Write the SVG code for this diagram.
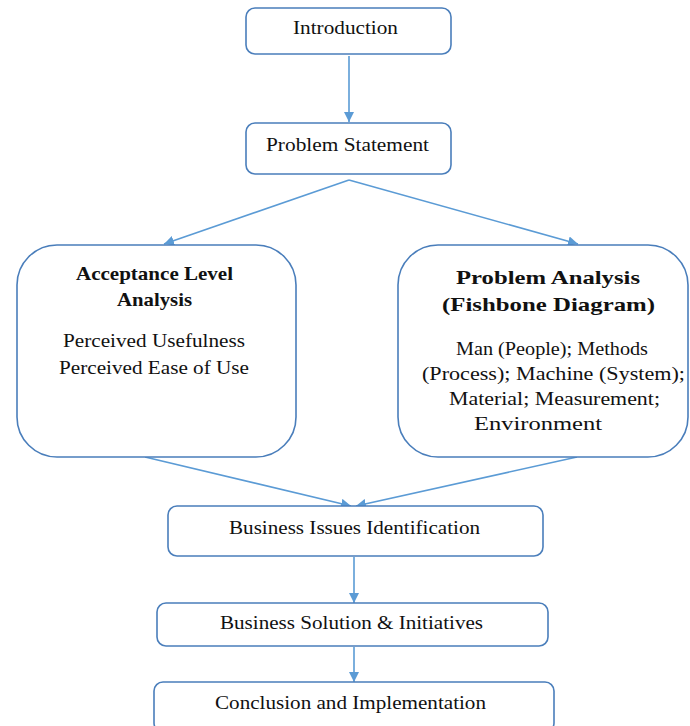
<svg xmlns="http://www.w3.org/2000/svg" width="690" height="726" viewBox="0 0 690 726">
<style>
.box{fill:#fff;stroke:#4a7ebb;stroke-width:1.6}
.t{font-family:"Liberation Serif","Times New Roman",serif;font-size:19px;fill:#111;text-anchor:middle}
.b{font-weight:bold}
.c{stroke:#5b9bd5;stroke-width:1.6;fill:none;marker-end:url(#ah)}
</style>
<defs>
<marker id="ah" viewBox="0 0 10 10" refX="10" refY="5" markerWidth="10" markerHeight="10" markerUnits="userSpaceOnUse" orient="auto">
<path d="M0,0 L10,5 L0,10 z" fill="#5b9bd5"/>
</marker>
</defs>
<rect width="690" height="726" fill="#fff"/>
<g id="connectors">
<line class="c" x1="349" y1="56" x2="349" y2="122"/>
<line class="c" x1="349" y1="180" x2="164" y2="244"/>
<line class="c" x1="349" y1="180" x2="578" y2="244"/>
<line class="c" x1="145" y1="457" x2="351" y2="506"/>
<line class="c" x1="577" y1="457" x2="356" y2="506"/>
<line class="c" x1="354" y1="557" x2="354" y2="603"/>
<line class="c" x1="354" y1="647" x2="354" y2="682"/>
</g>
<g id="introduction">
<rect class="box" x="246" y="8" width="205" height="46" rx="9"/>
<text class="t" x="345.5" y="34" textLength="105" lengthAdjust="spacingAndGlyphs">Introduction</text>
</g>
<g id="problem-statement">
<rect class="box" x="246" y="123" width="205" height="51" rx="9"/>
<text class="t" x="347.5" y="151" textLength="163" lengthAdjust="spacingAndGlyphs">Problem Statement</text>
</g>
<g id="acceptance">
<rect class="box" x="17" y="245" width="279" height="212" rx="40"/>
<text class="t b" x="154.5" y="280" textLength="157" lengthAdjust="spacingAndGlyphs">Acceptance Level</text>
<text class="t b" x="154.5" y="306" textLength="75" lengthAdjust="spacingAndGlyphs">Analysis</text>
<text class="t" x="154" y="347" textLength="182" lengthAdjust="spacingAndGlyphs">Perceived Usefulness</text>
<text class="t" x="154" y="374" textLength="190" lengthAdjust="spacingAndGlyphs">Perceived Ease of Use</text>
</g>
<g id="problem-analysis">
<rect class="box" x="398" y="245" width="290" height="212" rx="40"/>
<text class="t b" x="548" y="284" font-size="22" textLength="184" lengthAdjust="spacingAndGlyphs">Problem Analysis</text>
<text class="t b" x="548.5" y="311" font-size="22" textLength="213" lengthAdjust="spacingAndGlyphs">(Fishbone Diagram)</text>
<text class="t" x="552" y="355" textLength="192" lengthAdjust="spacingAndGlyphs">Man (People); Methods</text>
<text class="t" x="553.5" y="380" textLength="263" lengthAdjust="spacingAndGlyphs">(Process); Machine (System);</text>
<text class="t" x="554.5" y="405" textLength="211" lengthAdjust="spacingAndGlyphs">Material; Measurement;</text>
<text class="t" x="538" y="430" textLength="128" lengthAdjust="spacingAndGlyphs">Environment</text>
</g>
<g id="business-issues">
<rect class="box" x="168" y="506" width="375" height="50" rx="9"/>
<text class="t" x="354.5" y="534" textLength="251" lengthAdjust="spacingAndGlyphs">Business Issues Identification</text>
</g>
<g id="business-solution">
<rect class="box" x="157" y="603" width="391" height="43" rx="9"/>
<text class="t" x="351.5" y="629" textLength="263" lengthAdjust="spacingAndGlyphs">Business Solution &amp; Initiatives</text>
</g>
<g id="conclusion">
<rect class="box" x="154" y="682" width="400" height="50" rx="9"/>
<text class="t" x="350.5" y="709" textLength="271" lengthAdjust="spacingAndGlyphs">Conclusion and Implementation</text>
</g>
</svg>
